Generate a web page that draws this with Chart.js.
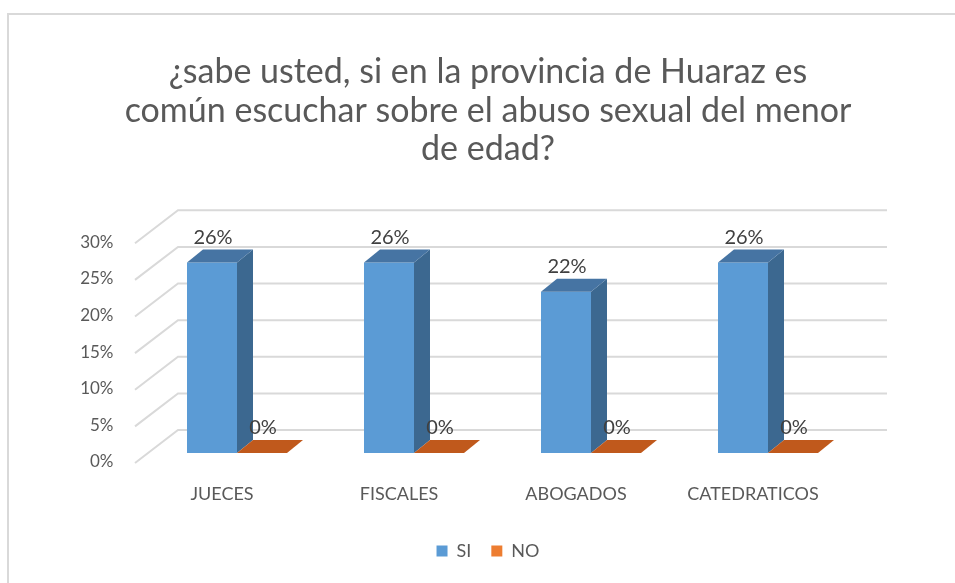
<!DOCTYPE html>
<html>
<head>
<meta charset="utf-8">
<script src="https://cdn.jsdelivr.net/npm/chart.js@4.4.1/dist/chart.umd.min.js"></script>
<style>
  html, body { margin: 0; padding: 0; background: #fff; overflow: hidden; }
  .frame { position: absolute; left: 7px; top: 13px; width: 1000px; height: 1000px;
           border-left: 2px solid #d9d9d9; border-top: 2px solid #d9d9d9; }
  .wrap { position: absolute; left: 0; top: 0; width: 955px; height: 583px; }
</style>
</head>
<body>
<div class="frame"></div>
<div class="wrap"><canvas id="chart" width="955" height="583"></canvas></div>
<script>
// data
const categories = ["JUECES", "FISCALES", "ABOGADOS", "CATEDRATICOS"];
const siValues = [0.26, 0.26, 0.22, 0.26];
const noValues = [0, 0, 0, 0];
const yTicks = [0, 0.05, 0.1, 0.15, 0.2, 0.25, 0.3];
const titleLines = [
  "¿sabe usted, si en la provincia de Huaraz es",
  "común escuchar sobre el abuso sexual del menor",
  "de edad?"
];

const FONT = "Lato, 'Open Sans', sans-serif";
const TEXT = "#595959";

// depth of the bars and of the walls (pixels)
const barDX = 16, barDY = -13;
const sideColors = ["#3C6890", "#C0591C"];
const topColors = ["#4674A3", "#C0591C"];

const pct = (v) => Math.round(v * 100) + "%";

// draws the walls, the bar depth and the value labels
const fake3d = {
  id: "fake3d",
  beforeDatasetsDraw(chart) {
    const { ctx, chartArea, scales } = chart;
    const y = scales.y;
    ctx.save();
    ctx.strokeStyle = "#d9d9d9";
    ctx.lineWidth = 2;
    yTicks.forEach((v) => {
      const py = y.getPixelForValue(v);
      ctx.beginPath();
      ctx.moveTo(chartArea.left - 13.5, py + 10);
      ctx.lineTo(chartArea.left + 29.5, py - 23);
      ctx.lineTo(chartArea.right + 30.5, py - 23);
      ctx.stroke();
    });
    ctx.restore();
  },
  afterDatasetsDraw(chart) {
    const { ctx } = chart;
    ctx.save();
    chart.data.datasets.forEach((ds, di) => {
      const meta = chart.getDatasetMeta(di);
      meta.data.forEach((bar) => {
        const p = bar.getProps(["x", "y", "base", "width"], true);
        const l = p.x - p.width / 2, r = p.x + p.width / 2;
        // side face
        ctx.fillStyle = sideColors[di];
        ctx.beginPath();
        ctx.moveTo(r, p.y);
        ctx.lineTo(r + barDX, p.y + barDY);
        ctx.lineTo(r + barDX, p.base + barDY);
        ctx.lineTo(r, p.base);
        ctx.closePath();
        ctx.fill();
        // top face
        ctx.fillStyle = topColors[di];
        ctx.beginPath();
        ctx.moveTo(l, p.y);
        ctx.lineTo(l + barDX, p.y + barDY);
        ctx.lineTo(r + barDX, p.y + barDY);
        ctx.lineTo(r, p.y);
        ctx.closePath();
        ctx.fill();
      });
    });
    // value labels
    ctx.fillStyle = "#404040";
    ctx.font = "20px " + FONT;
    ctx.textAlign = "center";
    ctx.textBaseline = "middle";
    chart.data.datasets.forEach((ds, di) => {
      chart.getDatasetMeta(di).data.forEach((bar, i) => {
        const p = bar.getProps(["x", "y"], true);
        ctx.fillText(pct(ds.data[i]), p.x + 1, p.y - 25);
      });
    });
    ctx.restore();
  }
};

new Chart(document.getElementById("chart").getContext("2d"), {
  type: "bar",
  data: {
    labels: categories,
    datasets: [
      { label: "SI", data: siValues, backgroundColor: "#5B9BD5" },
      { label: "NO", data: noValues, backgroundColor: "#ED7D31" }
    ]
  },
  options: {
    responsive: false,
    animation: false,
    events: [],
    layout: { padding: { left: 21, right: 0, top: 0, bottom: 13 } },
    datasets: {
      bar: { categoryPercentage: 0.565, barPercentage: 1, borderWidth: 0 }
    },
    scales: {
      x: {
        grid: { display: false, drawTicks: false },
        border: { display: false },
        ticks: { color: TEXT, font: { family: FONT, size: 18 }, padding: 30, labelOffset: -15 },
        afterFit(scale) { scale.height = 69; }
      },
      y: {
        min: 0,
        max: 0.3,
        grid: { display: false, drawTicks: false },
        border: { display: false },
        afterBuildTicks(scale) { scale.ticks = yTicks.map((v) => ({ value: v })); },
        ticks: {
          color: TEXT,
          font: { family: FONT, size: 17 },
          padding: 35,
          labelOffset: 9,
          callback: (v) => pct(v)
        },
        afterFit(scale) { scale.width = 127.5; }
      },
      // empty axis on the right, only keeps room for the back wall
      yRight: {
        position: "right",
        grid: { display: false, drawTicks: false },
        border: { display: false },
        ticks: { display: false },
        afterFit(scale) { scale.width = 98.5; }
      }
    },
    plugins: {
      title: {
        display: true,
        text: titleLines,
        color: TEXT,
        font: { family: FONT, size: 34, weight: "normal", lineHeight: 1.13 },
        padding: { top: 53, bottom: 65 }
      },
      legend: {
        position: "bottom",
        labels: {
          color: TEXT,
          font: { family: FONT, size: 18 },
          boxWidth: 11,
          boxHeight: 11,
          padding: 20
        }
      },
      tooltip: { enabled: false }
    }
  },
  plugins: [fake3d]
});
</script>
</body>
</html>
